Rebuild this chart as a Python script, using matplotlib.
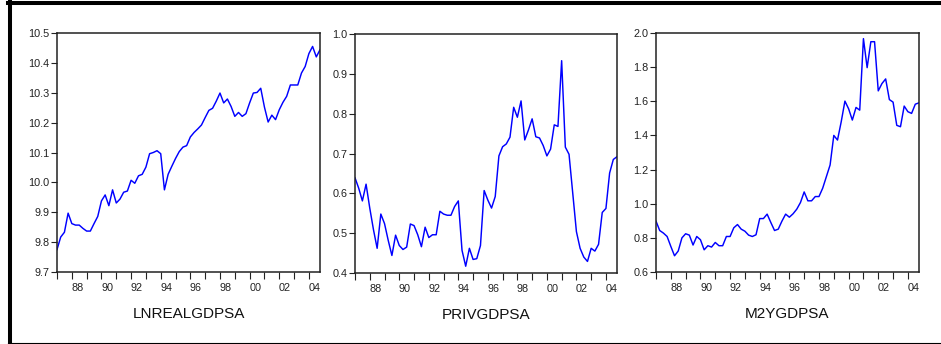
import matplotlib
matplotlib.use("Agg")
import matplotlib.pyplot as plt
from matplotlib.lines import Line2D
import numpy as np

# quarterly data, 1987Q1 - 2004Q4
start_year = 1987
label_years = [1988, 1990, 1992, 1994, 1996, 1998, 2000, 2002, 2004]
year_labels = ["88", "90", "92", "94", "96", "98", "00", "02", "04"]

lnrealgdpsa = [
    9.775, 9.817, 9.833, 9.897, 9.862, 9.857, 9.857, 9.846, 9.837, 9.837,
    9.862, 9.886, 9.938, 9.958, 9.922, 9.975, 9.931, 9.944, 9.967, 9.971,
    10.007, 9.997, 10.022, 10.027, 10.051, 10.096, 10.100, 10.106, 10.096, 9.975,
    10.027, 10.054, 10.080, 10.103, 10.118, 10.123, 10.152, 10.167, 10.179, 10.192,
    10.217, 10.241, 10.248, 10.272, 10.299, 10.266, 10.279, 10.254, 10.221, 10.234,
    10.221, 10.230, 10.266, 10.299, 10.301, 10.315, 10.252, 10.202, 10.225, 10.210,
    10.243, 10.268, 10.288, 10.326, 10.326, 10.326, 10.366, 10.388, 10.431, 10.455,
    10.420, 10.444,
]
privgdpsa = [
    0.639, 0.613, 0.581, 0.623, 0.563, 0.509, 0.462, 0.548, 0.524, 0.482,
    0.444, 0.495, 0.469, 0.459, 0.465, 0.523, 0.519, 0.496, 0.466, 0.515,
    0.489, 0.496, 0.496, 0.555, 0.548, 0.545, 0.545, 0.567, 0.581, 0.457,
    0.417, 0.462, 0.434, 0.436, 0.469, 0.607, 0.583, 0.563, 0.592, 0.694,
    0.717, 0.724, 0.741, 0.816, 0.791, 0.832, 0.734, 0.759, 0.787, 0.742,
    0.739, 0.720, 0.694, 0.711, 0.772, 0.768, 0.933, 0.716, 0.698, 0.601,
    0.504, 0.462, 0.440, 0.429, 0.462, 0.455, 0.472, 0.552, 0.562, 0.651,
    0.685, 0.692,
]
m2ygdpsa = [
    0.898, 0.843, 0.828, 0.808, 0.750, 0.695, 0.723, 0.800, 0.824, 0.816,
    0.758, 0.808, 0.789, 0.730, 0.754, 0.746, 0.773, 0.754, 0.754, 0.808,
    0.808, 0.859, 0.878, 0.851, 0.839, 0.816, 0.808, 0.818, 0.913, 0.913,
    0.939, 0.890, 0.843, 0.851, 0.898, 0.939, 0.921, 0.941, 0.968, 1.007,
    1.069, 1.017, 1.017, 1.042, 1.042, 1.091, 1.159, 1.227, 1.400, 1.373,
    1.480, 1.601, 1.556, 1.490, 1.564, 1.548, 1.967, 1.797, 1.949, 1.949,
    1.661, 1.704, 1.731, 1.610, 1.595, 1.459, 1.451, 1.572, 1.539, 1.529,
    1.583, 1.591,
]

names = ["LNREALGDPSA", "PRIVGDPSA", "M2YGDPSA"]
series = [lnrealgdpsa, privgdpsa, m2ygdpsa]
y_ranges = [(9.7, 10.5), (0.4, 1.0), (0.6, 2.0)]
y_steps = [0.1, 0.1, 0.2]

W, H = 941, 344
fig = plt.figure(figsize=(W / 100, H / 100), dpi=100)

# axes boxes in pixels: left, top, right, bottom
boxes = [(57, 33, 320, 272), (355, 34, 617, 273), (656, 33, 919, 272)]

tick_font = {"family": ["Liberation Sans", "DejaVu Sans"], "size": 7.8}
title_font = ["Liberation Sans", "DejaVu Sans"]

n = len(lnrealgdpsa)
t = np.arange(n)
year_ticks = np.arange(0, n, 4)
label_pos = [(y - start_year) * 4 + 1.5 for y in label_years]

for box, vals, name, yr, ys in zip(boxes, series, names, y_ranges, y_steps):
    l, tp, r, b = box
    ax = fig.add_axes([l / W, 1 - b / H, (r - l) / W, (b - tp) / H])
    ax.plot(t, vals, color="#0000ff", lw=1.05)
    ax.set_xlim(0, n - 1)
    ax.set_ylim(*yr)
    yt = np.arange(yr[0], yr[1] + ys / 2, ys)
    ax.set_yticks(yt)
    ax.set_yticklabels([f"{v:.1f}" for v in yt], fontdict=tick_font, color="#222222")
    ax.set_xticks(year_ticks)
    ax.set_xticklabels([])
    ax.set_xticks(label_pos, minor=True)
    ax.set_xticklabels(year_labels, minor=True, fontdict=tick_font, color="#222222")
    ax.tick_params(axis="x", which="major", direction="out", length=5, width=0.8, color="#222222")
    ax.tick_params(axis="x", which="minor", length=0, pad=8)
    ax.tick_params(axis="y", direction="out", length=4, width=0.8, pad=1.5, color="#222222")
    for s in ax.spines.values():
        s.set_linewidth(1.1)
        s.set_color("#222222")
    ax.set_xlabel(name, family=title_font, fontsize=11, labelpad=10, color="#111111")

# outer frame
fig.add_artist(Line2D([10 / W, 10 / W], [0, 1], transform=fig.transFigure, lw=2.9, color="black"))
fig.add_artist(Line2D([8 / W, 1], [1 - 2.5 / H, 1 - 2.5 / H], transform=fig.transFigure, lw=2.9, color="black"))
fig.add_artist(Line2D([8 / W, 1], [1 - 342.5 / H, 1 - 342.5 / H], transform=fig.transFigure, lw=0.8, color="black"))

fig.savefig("out.png", dpi=100)
